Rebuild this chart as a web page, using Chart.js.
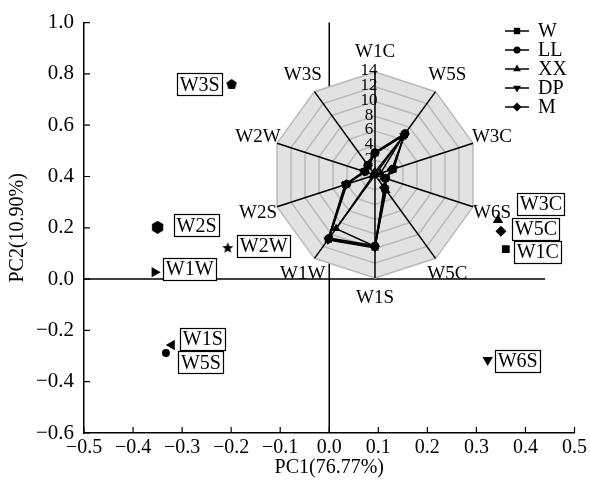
<!DOCTYPE html>
<html>
<head>
<meta charset="utf-8">
<script src="https://cdn.jsdelivr.net/npm/chart.js@4.4.1/dist/chart.umd.min.js"></script>
<style>
  html, body { margin: 0; padding: 0; background: #fff; }
  #wrap { position: relative; width: 590px; height: 482px; }
  #pca { position: absolute; left: 0; top: 0; }
  #radar { position: absolute; left: 225px; top: 25px; }
</style>
</head>
<body>
<div id="wrap">
  <canvas id="pca" width="590" height="482"></canvas>
  <canvas id="radar" width="300" height="300"></canvas>
</div>
<script>
// PCA scores of the samples
const sampleNames = ['W3S', 'W2S', 'W2W', 'W1W', 'W1S', 'W5S', 'W3C', 'W5C', 'W1C', 'W6S'];
const pc1 = [-0.199, -0.350, -0.207, -0.356, -0.321, -0.333, 0.344, 0.350, 0.360, 0.323];
const pc2 = [0.759, 0.202, 0.121, 0.027, -0.257, -0.288, 0.230, 0.187, 0.117, -0.315];

// Radar (sensor response) data
const radarAxes = ['W1C', 'W5S', 'W3C', 'W6S', 'W5C', 'W1S', 'W1W', 'W2S', 'W2W', 'W3S'];
const seriesNames = ['W', 'LL', 'XX', 'DP', 'M'];
const valuesW  = [3.0, 6.8, 2.6, 1.5, 2.3, 9.8, 10.8, 4.2, 1.5, 1.6];
const valuesLL = [3.1, 7.0, 2.5, 1.4, 2.2, 9.6, 10.6, 4.0, 1.4, 1.7];
const valuesXX = [0.4, 6.4, 0.8, 1.2, 2.6, 9.7, 9.0, 0.3, 0.2, 0.3];
const valuesDP = [2.9, 6.6, 2.7, 1.6, 2.4, 9.9, 10.9, 4.3, 1.6, 1.5];
const valuesM  = [3.0, 6.9, 2.4, 1.5, 2.1, 9.7, 10.7, 4.1, 1.5, 1.6];
const seriesValues = [valuesW, valuesLL, valuesXX, valuesDP, valuesM];

// Axis ticks
const xRange = [-0.5, 0.5];
const yRange = [-0.6, 1.0];
const radarTicks = [2, 4, 6, 8, 10, 12, 14];
const zeroLineX = [-0.5, 0.44];

const SERIF = "'Liberation Serif', 'Times New Roman', serif";
Chart.defaults.font.family = SERIF;
Chart.defaults.color = '#000';
Chart.defaults.animation = false;

// small canvases for markers Chart.js doesn't have
function shapeCanvas(kind, size) {
  const c = document.createElement('canvas');
  c.width = c.height = size;
  const g = c.getContext('2d');
  const cx = size / 2, cy = size / 2, r = size / 2;
  g.fillStyle = '#000';
  g.beginPath();
  if (kind === 'star') {
    for (let k = 0; k < 10; k++) {
      const a = -Math.PI / 2 + k * Math.PI / 5;
      const rr = k % 2 ? r * 0.42 : r;
      g.lineTo(cx + rr * Math.cos(a), cy + rr * Math.sin(a));
    }
  } else {
    const n = kind === 'pentagon' ? 5 : 6;
    for (let k = 0; k < n; k++) {
      const a = -Math.PI / 2 + k * 2 * Math.PI / n;
      g.lineTo(cx + r * Math.cos(a), cy + r * Math.sin(a));
    }
  }
  g.closePath();
  g.fill();
  return c;
}

const sampleMarkers = [
  { style: shapeCanvas('pentagon', 11), rotation: 0, radius: 5 },
  { style: shapeCanvas('hexagon', 13), rotation: 0, radius: 6 },
  { style: shapeCanvas('star', 12), rotation: 0, radius: 5 },
  { style: 'triangle', rotation: 90, radius: 6 },
  { style: 'triangle', rotation: 270, radius: 6 },
  { style: 'circle', rotation: 0, radius: 4 },
  { style: 'triangle', rotation: 0, radius: 6 },
  { style: 'rectRot', rotation: 0, radius: 5.5 },
  { style: 'rect', rotation: 0, radius: 5.5 },
  { style: 'triangle', rotation: 180, radius: 6 }
];
// box centre offset from its point (px)
const labelOffsets = [[-32, 0], [39, -2], [36, -2], [35, -3.5], [31, -6], [35, 9.5], [43, -16.5], [35, -2.5], [32, 3], [30, 1]];

const seriesMarkers = [
  { style: 'rect', rotation: 0, radius: 5 },
  { style: 'circle', rotation: 0, radius: 4 },
  { style: 'triangle', rotation: 0, radius: 5 },
  { style: 'triangle', rotation: 180, radius: 5 },
  { style: 'rectRot', rotation: 0, radius: 5 }
];

function fmt(v) {
  if (Math.abs(v) < 1e-9) return '0.0';
  return (v < 0 ? '\u2212' : '') + Math.abs(v).toFixed(1);
}

const pcaDecor = {
  id: 'pcaDecor',
  beforeDatasetsDraw(chart) {
    const { ctx, scales: { x, y }, chartArea } = chart;
    ctx.save();
    ctx.strokeStyle = '#000';
    ctx.lineWidth = 1.5;
    ctx.beginPath();
    ctx.moveTo(x.getPixelForValue(zeroLineX[0]), y.getPixelForValue(0));
    ctx.lineTo(x.getPixelForValue(zeroLineX[1]), y.getPixelForValue(0));
    ctx.moveTo(x.getPixelForValue(0), chartArea.top);
    ctx.lineTo(x.getPixelForValue(0), chartArea.bottom);
    ctx.stroke();
    // inward tick marks
    ctx.lineWidth = 1.2;
    ctx.beginPath();
    x.ticks.forEach(t => {
      const px = x.getPixelForValue(t.value);
      ctx.moveTo(px, chartArea.bottom);
      ctx.lineTo(px, chartArea.bottom - 6);
    });
    y.ticks.forEach(t => {
      const py = y.getPixelForValue(t.value);
      ctx.moveTo(chartArea.left, py);
      ctx.lineTo(chartArea.left + 6, py);
    });
    ctx.stroke();
    ctx.restore();
  },
  afterDraw(chart) {
    const { ctx } = chart;
    const meta = chart.getDatasetMeta(0);
    ctx.save();
    ctx.font = '20px ' + SERIF;
    ctx.textAlign = 'center';
    ctx.textBaseline = 'middle';
    // boxed sample labels
    meta.data.forEach((pt, i) => {
      const cx = pt.x + labelOffsets[i][0];
      const cy = pt.y + labelOffsets[i][1];
      const w = ctx.measureText(sampleNames[i]).width + 5;
      const h = 22;
      const bx = Math.round(cx - w / 2) + 0.5, by = Math.round(cy - h / 2) + 0.5;
      ctx.fillStyle = '#fff';
      ctx.fillRect(bx, by, Math.round(w), h);
      ctx.strokeStyle = '#000';
      ctx.lineWidth = 1.2;
      ctx.strokeRect(bx, by, Math.round(w), h);
      ctx.fillStyle = '#000';
      ctx.fillText(sampleNames[i], cx, cy + 1);
    });
    // legend for radar series
    ctx.textAlign = 'left';
    seriesNames.forEach((name, i) => {
      const ly = 31 + i * 19;
      ctx.strokeStyle = '#000';
      ctx.lineWidth = 1.5;
      ctx.beginPath();
      ctx.moveTo(505, ly);
      ctx.lineTo(529, ly);
      ctx.stroke();
      ctx.fillStyle = '#000';
      const m = seriesMarkers[i];
      Chart.helpers.drawPoint(ctx, { pointStyle: m.style, rotation: m.rotation, radius: m.radius - 0.5, borderWidth: 0 }, 517, ly);
      ctx.fillText(name, 538, ly + 1);
    });
    ctx.restore();
  }
};

new Chart(document.getElementById('pca'), {
  type: 'scatter',
  data: {
    datasets: [{
      data: sampleNames.map((n, i) => ({ x: pc1[i], y: pc2[i] })),
      pointStyle: sampleMarkers.map(m => m.style),
      pointRotation: sampleMarkers.map(m => m.rotation),
      pointRadius: sampleMarkers.map(m => m.radius),
      pointBackgroundColor: '#000',
      pointBorderColor: '#000',
      pointBorderWidth: 0
    }]
  },
  options: {
    responsive: false,
    layout: { padding: { top: 21, right: 14, left: 0, bottom: 0 } },
    plugins: { legend: { display: false }, tooltip: { enabled: false } },
    scales: {
      x: {
        type: 'linear', min: xRange[0], max: xRange[1],
        ticks: { stepSize: 0.1, padding: 3, font: { size: 20 }, callback: fmt, maxRotation: 0, autoSkip: false },
        grid: { display: false, drawTicks: false },
        border: { color: '#000', width: 1.5 },
        title: { display: true, text: 'PC1(76.77%)', font: { size: 20 }, padding: { top: 0, bottom: 2 } },
        afterFit(s) { s.height = 49; }
      },
      y: {
        type: 'linear', min: yRange[0], max: yRange[1],
        ticks: { stepSize: 0.2, padding: 10, font: { size: 21 }, callback: fmt, autoSkip: false },
        grid: { display: false, drawTicks: false },
        border: { color: '#000', width: 1.5 },
        title: { display: true, text: 'PC2(10.90%)', font: { size: 20 }, padding: { top: 6, bottom: 0 } },
        afterFit(s) { s.width = 84; }
      }
    }
  },
  plugins: [pcaDecor]
});

const radarText = {
  id: 'radarText',
  beforeDatasetsDraw(chart) {
    const r = chart.scales.r;
    const { ctx } = chart;
    ctx.save();
    ctx.font = '17px ' + SERIF;
    ctx.fillStyle = '#000';
    ctx.textAlign = 'center';
    ctx.textBaseline = 'middle';
    radarTicks.forEach(v => {
      ctx.fillText(String(v), r.xCenter - 6, r.yCenter - r.getDistanceFromCenterForValue(v) - 1);
    });
    ctx.restore();
  },
  afterDraw(chart) {
    const r = chart.scales.r;
    const { ctx } = chart;
    ctx.save();
    ctx.font = '19px ' + SERIF;
    ctx.fillStyle = '#000';
    ctx.textAlign = 'center';
    ctx.textBaseline = 'middle';
    radarAxes.forEach((name, i) => {
      const p = r.getPointPosition(i, r.drawingArea + 20);
      ctx.fillText(name, p.x, p.y);
    });
    ctx.restore();
  }
};

new Chart(document.getElementById('radar'), {
  type: 'radar',
  data: {
    labels: radarAxes,
    datasets: seriesNames.map((name, i) => ({
      label: name,
      data: seriesValues[i],
      borderColor: '#000',
      borderWidth: 1.5,
      fill: false,
      pointStyle: seriesMarkers[i].style,
      pointRotation: seriesMarkers[i].rotation,
      pointRadius: seriesMarkers[i].radius,
      pointBackgroundColor: '#000',
      pointBorderColor: '#000',
      pointBorderWidth: 0
    }))
  },
  options: {
    responsive: false,
    layout: { padding: 47 },
    elements: { line: { tension: 0 } },
    plugins: { legend: { display: false }, tooltip: { enabled: false } },
    scales: {
      r: {
        min: 0, max: 14,
        ticks: { stepSize: 2, display: false },
        pointLabels: { display: false },
        grid: { color: '#b9b9b9', lineWidth: 1.5 },
        angleLines: { color: '#000', lineWidth: 1.5 },
        backgroundColor: '#e2e2e2'
      }
    }
  },
  plugins: [radarText]
});
</script>
</body>
</html>
